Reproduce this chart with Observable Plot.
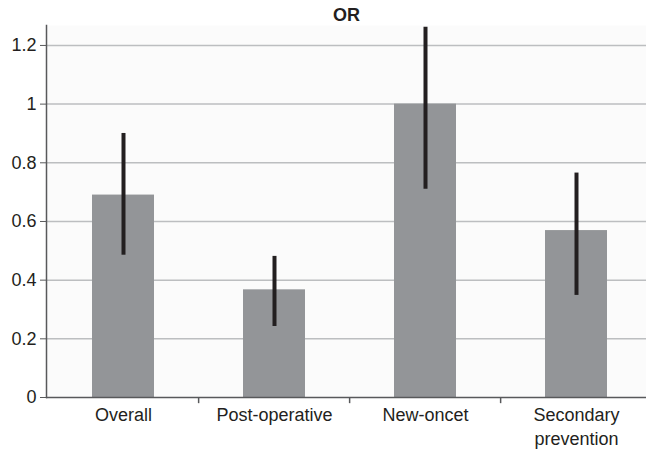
<!DOCTYPE html>
<html>
<head>
<meta charset="utf-8">
<script src="https://cdn.jsdelivr.net/npm/d3@7"></script>
<script src="https://cdn.jsdelivr.net/npm/@observablehq/plot@0.6"></script>
<style>
  html, body { margin: 0; padding: 0; background: #ffffff; }
  #chart svg { display: block; }
</style>
</head>
<body>
<div id="chart"></div>
<script>
const categories = ["Overall", "Post-operative", "New-oncet", "Secondary\nprevention"];
const orValues = [0.69, 0.367, 1.0, 0.569];
const ciLower = [0.485, 0.242, 0.71, 0.348];
const ciUpper = [0.90, 0.481, 1.262, 0.765];
const yTicks = [0, 0.2, 0.4, 0.6, 0.8, 1, 1.2];
const title = "OR";

const data = categories.map((c, i) => ({cat: c, or: orValues[i], lo: ciLower[i], hi: ciUpper[i]}));

const xRange = [46, 653];
const band = (xRange[1] - xRange[0]) / categories.length;

const chart = Plot.plot({
  width: 646,
  height: 450,
  marginTop: 25,
  marginBottom: 53,
  marginLeft: 46,
  marginRight: 0,
  style: {fontFamily: "Liberation Sans, Arial, Helvetica, sans-serif", fontSize: "18px", color: "#231f20", background: "#ffffff", overflow: "hidden"},
  x: {domain: categories, range: xRange, paddingInner: 0.59, paddingOuter: 0.295, align: 0.5},
  y: {domain: [0, 1.268]},
  marks: [
    Plot.frame({fill: "#fbfbfb", stroke: null}),
    Plot.gridY(yTicks.filter(d => d > 0), {stroke: "#bcbec0", strokeOpacity: 1, strokeWidth: 1.5}),
    Plot.axisY({ticks: yTicks, tickFormat: d => String(d), tickSize: 6, tickPadding: 4, label: null, stroke: "#58595b", fontSize: 18}),
    Plot.axisX({tickSize: 0, tickPadding: 7, label: null, fontSize: 18, lineHeight: 1.3}),
    Plot.barY(data, {x: "cat", y: "or", fill: "#939598"}),
    Plot.ruleX(data, {x: "cat", y1: "lo", y2: "hi", stroke: "#231f20", strokeWidth: 4}),
    Plot.ruleY([0], {stroke: "#58595b", strokeWidth: 1.5}),
    Plot.frame({anchor: "left", stroke: "#58595b", strokeWidth: 1.5}),
    Plot.ruleX(categories.slice(1), {x: d => d, dx: -band / 2, y1: 0, y2: -0.021, stroke: "#58595b", strokeWidth: 1.5}),
    Plot.text([title], {frameAnchor: "top", text: d => d, lineAnchor: "bottom", dy: -5, fontWeight: "bold", fontSize: 18, fill: "#231f20"})
  ]
});

document.getElementById("chart").appendChild(chart);
</script>
</body>
</html>
